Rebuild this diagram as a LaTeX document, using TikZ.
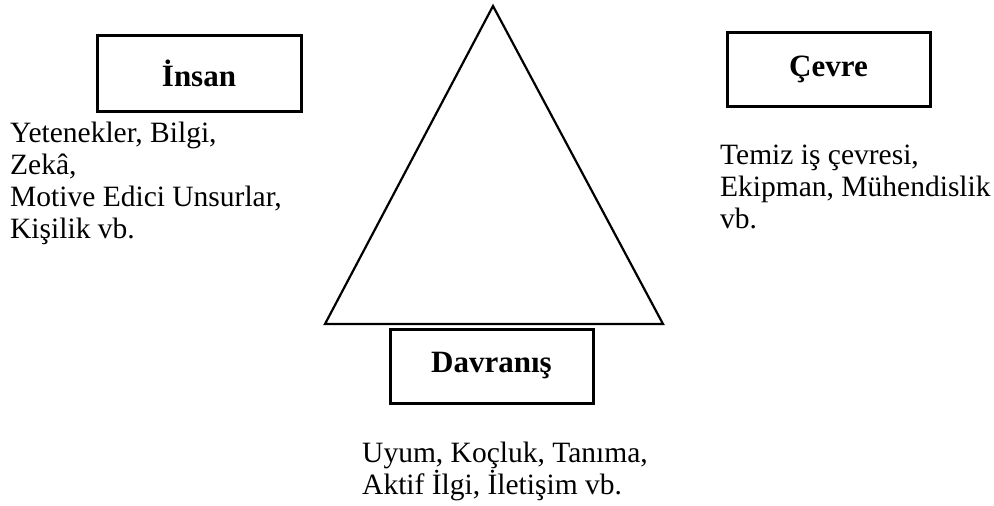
\documentclass[tikz,border=0pt]{standalone}
\usepackage{fontspec}
\setmainfont{Liberation Serif}
\begin{document}
\begin{tikzpicture}[x=1pt,y=-1pt,
  labelbox/.style={draw=black,line width=3pt,inner sep=0pt,font=\fontsize{31}{36}\selectfont\bfseries},
  bodytext/.style={inner sep=0pt,align=left,anchor=north west,font=\fontsize{29.5}{32}\selectfont}]
\useasboundingbox (0,0) rectangle (994,506);
% triangle
\coordinate (apex) at (493,6);
\coordinate (bl) at (325,324);
\coordinate (br) at (663,324);
\draw[line width=2.2pt,line join=miter] (apex) -- (br) -- (bl) -- cycle;
% boxes
\node[labelbox,minimum width=204pt,minimum height=76pt] (insan) at (199,73) {İnsan};
\node[labelbox,minimum width=203pt,minimum height=74pt] (cevre) at (828.5,69) {Çevre};
\node[labelbox,minimum width=203pt,minimum height=74pt] (davranis) at (491.5,366) {Davranış};
% texts
\node[bodytext] (insantext) at (10,122) {Yetenekler, Bilgi,\\Zekâ,\\Motive Edici Unsurlar,\\Kişilik vb.};
\node[bodytext] (cevretext) at (720,145) {Temiz iş çevresi,\\Ekipman, Mühendislik\\vb.};
\node[bodytext] (davtext) at (362,442) {Uyum, Koçluk, Tanıma,\\Aktif İlgi, İletişim vb.};
\end{tikzpicture}
\end{document}
